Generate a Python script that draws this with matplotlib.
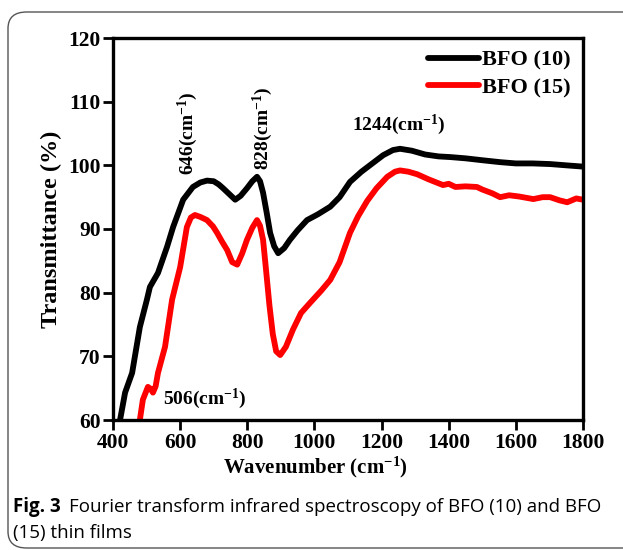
import matplotlib.pyplot as plt
from matplotlib.patches import FancyBboxPatch

plt.rcParams["font.family"] = ["Liberation Serif", "DejaVu Serif"]
plt.rcParams["font.weight"] = "bold"
plt.rcParams["mathtext.fontset"] = "custom"
plt.rcParams["mathtext.rm"] = "Liberation Serif:bold"
plt.rcParams["mathtext.it"] = "Liberation Serif:bold"
plt.rcParams["mathtext.bf"] = "Liberation Serif:bold"

# BFO (10)
wn_10 = [421, 436, 457, 480, 501, 510, 534, 561, 579, 609, 638, 660, 680, 700,
         715, 728, 746, 764, 780, 799, 815, 829, 838, 847, 858, 868, 880, 892, 910,
         927, 950, 978, 1010, 1047, 1075, 1106, 1140, 1175, 1205, 1234, 1255, 1290,
         1330, 1370, 1404, 1450, 1500, 1553, 1600, 1650, 1702, 1750, 1800]
tr_10 = [60, 64.3, 67.4, 74.6, 78.9, 80.9, 83.1, 87.2, 90.3, 94.6, 96.6, 97.3, 97.6, 97.5,
         97.0, 96.4, 95.5, 94.6, 95.2, 96.4, 97.5, 98.2, 97.5, 95.7, 92.5, 89.4, 87.3, 86.2, 87,
         88.3, 89.8, 91.4, 92.3, 93.5, 95, 97.4, 99, 100.4, 101.6, 102.4, 102.6, 102.3,
         101.7, 101.4, 101.3, 101.1, 100.8, 100.5, 100.3, 100.3, 100.2, 100.0, 99.8]

# BFO (15)
wn_15 = [480, 489, 504, 512, 519, 527, 534, 555, 576, 600, 620, 632, 644, 660, 680,
         698, 710, 725, 740, 755, 770, 785, 799, 815, 829, 838, 847, 856, 866, 876,
         886, 898, 915, 936, 960, 987, 1020, 1047, 1075, 1106, 1130, 1157, 1185, 1217,
         1240, 1255, 1280, 1306, 1340, 1383, 1400, 1420, 1450, 1484, 1500, 1530, 1553,
         1580, 1610, 1652, 1680, 1702, 1730, 1753, 1780, 1800]
tr_15 = [60, 63.2, 65.2, 64.9, 64.3, 65.3, 67.4, 71.5, 78.9, 84, 90.3, 91.8, 92.2, 91.9, 91.4,
         90.4, 89.4, 88.0, 86.7, 84.8, 84.4, 86.2, 88.3, 90.2, 91.4, 90.5, 88.3, 83.5, 78, 73.5,
         70.8, 70.2, 71.5, 74.2, 76.8, 78.4, 80.3, 82, 84.8, 89.4, 92, 94.4, 96.4, 98.2,
         99, 99.2, 99, 98.6, 97.8, 96.9, 97.1, 96.6, 96.7, 96.6, 96.2, 95.6, 95.0,
         95.3, 95.1, 94.7, 95.0, 95.0, 94.5, 94.2, 94.8, 94.6]

x_ticks = [400, 600, 800, 1000, 1200, 1400, 1600, 1800]
y_ticks = [60, 70, 80, 90, 100, 110, 120]

fig = plt.figure(figsize=(6.23, 5.5), dpi=100)

# rounded frame around figure + caption
frame = FancyBboxPatch((8 / 623, 2 / 550), 700 / 623, 536 / 550,
                       boxstyle="round,pad=0,rounding_size=0.03",
                       transform=fig.transFigure, facecolor="none",
                       edgecolor="#555555", linewidth=1.0)
fig.patches.append(frame)

ax = fig.add_axes([113 / 623, 1 - 420 / 550, 470 / 623, 382 / 550])
ax.plot(wn_10, tr_10, color="black", lw=4.2, label="BFO (10)", solid_capstyle="round")
ax.plot(wn_15, tr_15, color="#ff0000", lw=4.2, label="BFO (15)", solid_capstyle="round")

ax.set_xlim(400, 1800)
ax.set_ylim(60, 120)
ax.set_xticks(x_ticks)
ax.set_yticks(y_ticks)
ax.tick_params(direction="out", length=7, width=2, labelsize=15.5, pad=2)
for s in ax.spines.values():
    s.set_linewidth(2.4)

ax.set_xlabel("Wavenumber (cm$^{-1}$)", fontsize=15, fontweight="bold")
ax.xaxis.set_label_coords(0.43, -0.092)
ax.set_ylabel("Transmittance (%)", fontsize=17.5, fontweight="bold", labelpad=4)

ax.text(623, 98.5, "646(cm$^{-1}$)", rotation=90, ha="center", va="bottom", fontsize=14)
ax.text(847, 99.3, "828(cm$^{-1}$)", rotation=90, ha="center", va="bottom", fontsize=14)
ax.text(1250, 104.5, "1244(cm$^{-1}$)", ha="center", va="bottom", fontsize=14)
ax.text(549, 63.3, "506(cm$^{-1}$)", ha="left", va="center", fontsize=14)

ax.legend(loc="upper right", frameon=False, handlelength=2.3,
          handletextpad=0.12, labelspacing=0.3, borderaxespad=0.15,
          prop={"weight": "bold", "size": 16})

# caption
cap_font = ["Open Sans", "Noto Sans", "DejaVu Sans"]
t1 = fig.text(13 / 623, 1 - 512 / 550, "Fig. 3", family=cap_font, weight="bold",
              fontsize=13.5, va="baseline", ha="left")
fig.canvas.draw()
bb = t1.get_window_extent()
fig.text(bb.x1 / 623 + 8 / 623, 1 - 512 / 550,
         "Fourier transform infrared spectroscopy of BFO (10) and BFO",
         family=cap_font, weight="normal", fontsize=13.5, va="baseline", ha="left")
fig.text(13 / 623, 1 - 538 / 550, "(15) thin films", family=cap_font, weight="normal",
         fontsize=13.5, va="baseline", ha="left")

fig.savefig("out.png", dpi=100)
